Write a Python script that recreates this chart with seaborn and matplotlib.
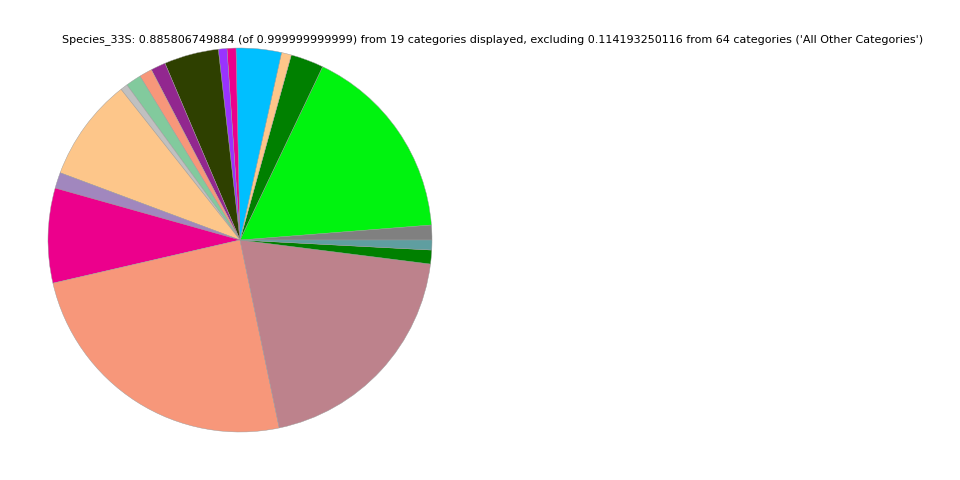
import matplotlib
matplotlib.use('Agg')
import seaborn as sns
import matplotlib.pyplot as plt

categories = ['c01', 'c02', 'c03', 'c04', 'c05', 'c06', 'c07', 'c08', 'c09', 'c10',
              'c11', 'c12', 'c13', 'c14', 'c15', 'c16', 'c17', 'c18', 'c19']
values = [0.01107, 0.14764, 0.02461, 0.00738, 0.03371, 0.00664, 0.00640, 0.04060,
          0.01107, 0.00960, 0.01157, 0.00541, 0.07677, 0.01181, 0.07062, 0.21850,
          0.17470, 0.01033, 0.00738]
colors = ['#808080', '#00F30F', '#008000', '#FDC68A', '#00BFFF', '#EC008C', '#9933FF',
          '#2E4000', '#92278F', '#F7977A', '#82CA9D', '#C0C0C0', '#FDC68A', '#A187BE',
          '#EC008C', '#F7977A', '#BD828C', '#008000', '#5F9EA0']
title = ("Species_33S: 0.885806749884 (of 0.999999999999) from 19 categories displayed, "
         "excluding 0.114193250116 from 64 categories ('All Other Categories')")

sns.set_style('white')
sns.set_palette(colors)

fig = plt.figure(figsize=(9.6, 4.8), dpi=100)
ax = fig.add_axes([0, 0, 0.5, 1])
ax.pie(values, colors=sns.color_palette(), startangle=0,
       wedgeprops={'linewidth': 0.3, 'edgecolor': '#999999'})
ax.set_aspect('equal')
fig.text(0.513, 0.917, title, ha='center', va='center', fontsize=8, color='black')
fig.savefig('out.png', dpi=100)
